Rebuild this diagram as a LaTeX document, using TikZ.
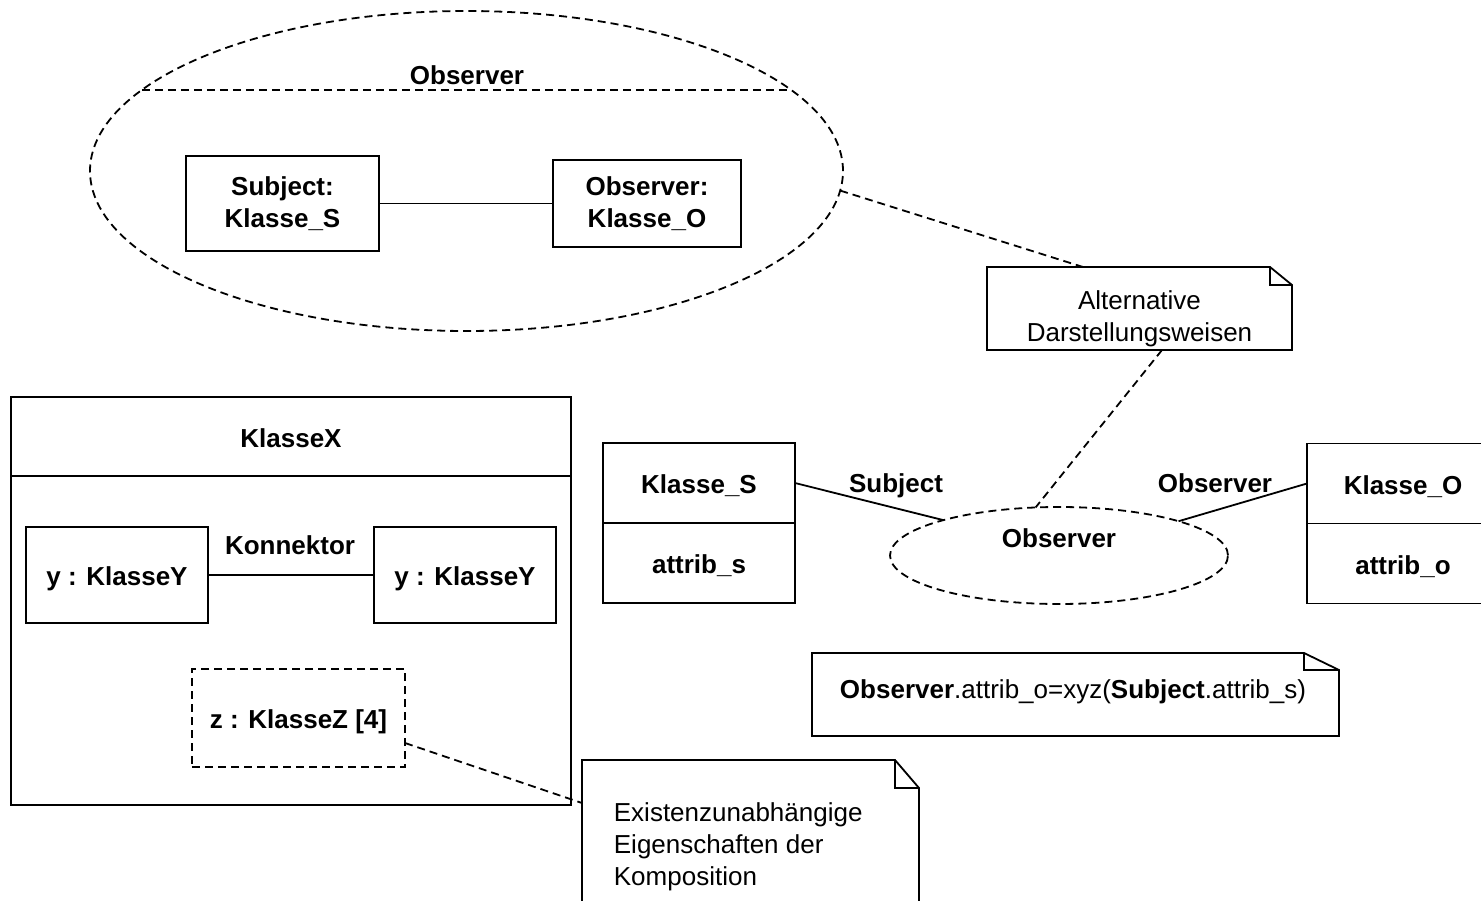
\documentclass[tikz,border=0pt]{standalone}
\usepackage{fontspec}
\setmainfont{Liberation Sans}
\usetikzlibrary{shapes.geometric,calc}
\newcommand{\drawnote}[3]{%
  \draw (#1.north west) -- ($(#1.north east)+(-#2,0)$) -- ($(#1.north east)+(0,#3)$) -- (#1.south east) -- (#1.south west) -- cycle;
  \draw ($(#1.north east)+(-#2,0)$) -- ($(#1.north east)+(-#2,#3)$) -- ($(#1.north east)+(0,#3)$);}
\begin{document}
\begin{tikzpicture}[x=1pt,y=-1pt,
  line width=1.8pt,
  font=\fontsize{26}{32}\selectfont,
  dsh/.style={dash pattern=on 8pt off 5pt},
  box/.style={draw, rectangle, inner sep=0pt, outer sep=0pt, align=center, font=\fontsize{26}{32}\selectfont\bfseries},
  sbox/.style={box, text height=21pt, text depth=0pt},
  ell/.style={draw, ellipse, dsh, inner sep=0pt, outer sep=0pt},
  frame/.style={rectangle, inner sep=0pt, outer sep=0pt},
  btxt/.style={inner sep=0pt, font=\fontsize{26}{32}\selectfont\bfseries},
  rtxt/.style={inner sep=0pt, font=\fontsize{26}{32}\selectfont}]
\clip (0,0) rectangle (1481,901);

% ---- top: collaboration ellipse
\node[ell, minimum width=753pt, minimum height=320pt] (bigEll) at (466.5,171) {};
\coordinate (chordL) at (141.8,90);
\coordinate (chordR) at (791.2,90);
\draw[dsh] (chordL) -- (chordR);
\node[btxt] (bigLbl) at (467,75) {Observer};
\node[box, minimum width=193pt, minimum height=95pt] (subjBox) at (282.5,203.5) {Subject:\\Klasse\_S};
\node[box, minimum width=188pt, minimum height=87pt] (obsBox) at (647,203.5) {Observer:\\Klasse\_O};
\draw (subjBox) -- (obsBox);

% ---- note: alternative
\node[frame, minimum width=305pt, minimum height=83pt] (altNote) at (1139.5,308.5) {};
\drawnote{altNote}{22}{18}
\node[rtxt, align=center] (altTxt) at (1139.5,319) {Alternative\\Darstellungsweisen};
\draw[dsh] (bigEll.-3) -- ($(altNote.north west)+(96,0)$);

% ---- collaboration with classes
\node[ell, minimum width=338pt, minimum height=97pt] (obsEll) at (1059,555.5) {};
\node[btxt] (obsEllTxt) at (1059,538) {Observer};
\draw[dsh] ($(altNote.south west)+(175,0)$) -- (obsEll.116);

\node[sbox, minimum width=192pt, minimum height=80pt] (ksTop) at (699,483) {Klasse\_S};
\node[sbox, minimum width=192pt, minimum height=80pt] (ksBot) at (699,563) {attrib\_s};
\node[sbox, minimum width=192pt, minimum height=80pt] (koTop) at (1403,483.5) {Klasse\_O};
\node[sbox, minimum width=192pt, minimum height=80pt] (koBot) at (1403,563.5) {attrib\_o};

\draw (ksTop.east) -- (obsEll.163);
\draw (obsEll.16) -- (koTop.west);
\node[btxt] (subjLbl) at (896,486) {Subject};
\node[btxt] (obsLbl) at (1215,483) {Observer};

% ---- formula note
\node[frame, minimum width=527pt, minimum height=83pt] (formNote) at (1075.5,694.5) {};
\drawnote{formNote}{35}{17}
\node[rtxt] (formTxt) at (1073,692) {\textbf{Observer}.attrib\_o=xyz(\textbf{Subject}.attrib\_s)};

% ---- KlasseX composite
\node[sbox, minimum width=560pt, minimum height=79pt] (xTop) at (291,436.5) {KlasseX};
\node[box, minimum width=560pt, minimum height=329pt] (xBody) at (291,640.5) {};
\node[sbox, minimum width=182pt, minimum height=96pt] (y1) at (117,575) {y : KlasseY};
\node[sbox, minimum width=182pt, minimum height=96pt] (y2) at (465,575) {y : KlasseY};
\draw (y1) -- (y2);
\node[btxt] (konLbl) at (290,545) {Konnektor};
\node[sbox, dsh, minimum width=213pt, minimum height=98pt] (zBox) at (298.5,718) {z : KlasseZ [4]};

% ---- composition note
\node[frame, minimum width=337pt, minimum height=180pt] (compNote) at (750.5,850) {};
\drawnote{compNote}{24}{28}
\node[rtxt, align=left, anchor=west] (compTxt) at (613,847) {Existenzunabhängige\\Eigenschaften der\\Komposition};
\draw[dsh] ($(zBox.south east)+(0,-24)$) -- ($(compNote.north west)+(0,43)$);
\end{tikzpicture}
\end{document}
